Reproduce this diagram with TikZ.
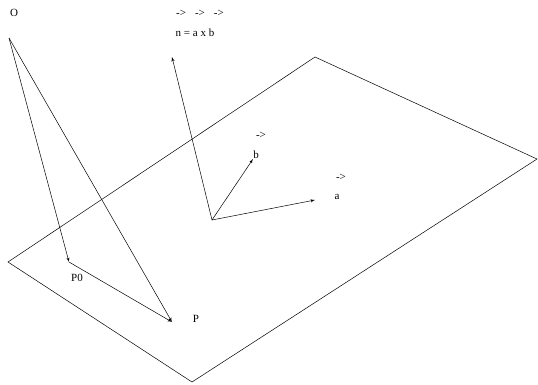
\documentclass[tikz,border=0pt]{standalone}
\usepackage{fontspec}
\setmainfont{Liberation Serif}
\usetikzlibrary{arrows,positioning}
\tikzstyle{txt} = [inner sep=0pt, font=\fontsize{11}{13}\selectfont]
\tikzstyle{point} = [coordinate]
\tikzstyle{vec} = [->, line width=0.5pt]

\begin{document}
\begin{tikzpicture}[x=1pt, y=-1pt, >=latex', line width=0.5pt]
    \useasboundingbox (0,0) rectangle (538,384);
    % Plane
    \node [point] (left) at (8,262) {};
    \node [point] (top) at (315,57) {};
    \node [point] (right) at (537,159) {};
    \node [point] (bottom) at (192,382) {};
    \draw (left) -- (top) -- (right) -- (bottom) -- cycle;

    % Points
    \node [point] (O) at (9,38) {};
    \node [point] (P0) at (69,262) {};
    \node [point] (P) at (172,322) {};
    \node [txt] (O_label) at (14,13) {O};
    \node [txt] (P0_label) at (77,278) {P0};
    \node [txt] (P_label) at (196,319) {P};

    % Vectors in the plane
    \node [point] (base) at (212,220) {};
    \node [point] (n) at (172,57) {};
    \node [point] (b) at (253,159) {};
    \node [point] (a) at (315,200) {};
    \node [txt] (b_label) at (256,155) {b};
    \node [txt, above=20pt of b_label.center, anchor=center, xshift=5pt] (b_arrow) {->};
    \node [txt] (a_label) at (337,197) {a};
    \node [txt, above=20pt of a_label.center, anchor=center, xshift=4pt] (a_arrow) {->};
    \node [txt] (n_label) at (195,33) {n = a x b};
    \node [txt] (n_arrows) at (200,13) {->\hspace{9pt}->\hspace{9pt}->};

    % Connections
    \draw [vec] (O) -- (P0);
    \draw [vec] (O) -- (P);
    \draw [vec] (P0) -- (P);
    \draw [vec] (base) -- (n);
    \draw [vec] (base) -- (b);
    \draw [vec] (base) -- (a);
\end{tikzpicture}
\end{document}
